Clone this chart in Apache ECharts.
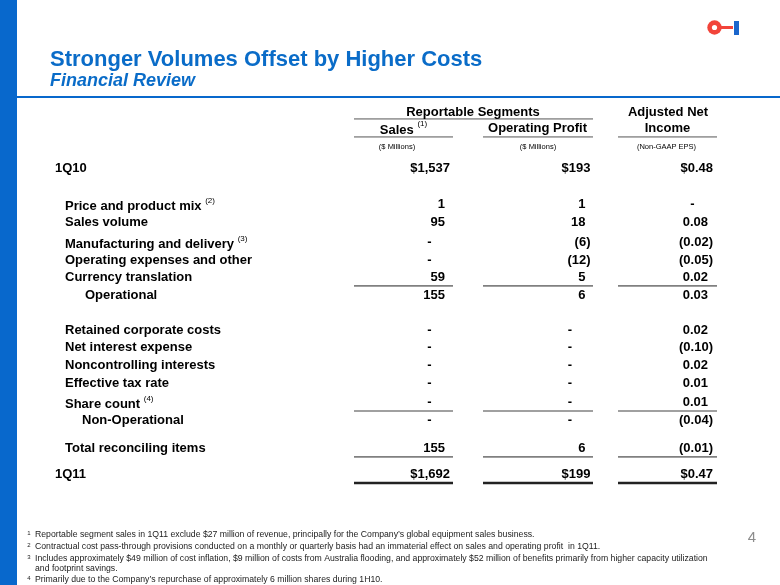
<!DOCTYPE html>
<html>
<head>
<meta charset="utf-8">
<script src="https://cdn.jsdelivr.net/npm/echarts@6/dist/echarts.min.js"></script>
<style>html,body{margin:0;padding:0;background:#fff}#c{width:780px;height:585px}</style>
</head>
<body>
<div id="c"></div>
<script>
// ---------- DATA ----------
const rowLabels = ['1Q10', 'Price and product mix', 'Sales volume', 'Manufacturing and delivery',
  'Operating expenses and other', 'Currency translation', 'Operational', 'Retained corporate costs',
  'Net interest expense', 'Noncontrolling interests', 'Effective tax rate', 'Share count',
  'Non-Operational', 'Total reconciling items', '1Q11'];
const rowNotes = ['', '(2)', '', '(3)', '', '', '', '', '', '', '', '(4)', '', '', ''];
const dollarRows = [true, false, false, false, false, false, false, false, false, false, false, false, false, false, true];
const salesValues = [1537, 1, 95, 0, 0, 59, 155, 0, 0, 0, 0, 0, 0, 155, 1692];
const opProfitValues = [193, 1, 18, -6, -12, 5, 6, 0, 0, 0, 0, 0, 0, 6, 199];
const epsValues = [0.48, 0, 0.08, -0.02, -0.05, 0.02, 0.03, 0.02, -0.10, 0.02, 0.01, 0.01, -0.04, -0.01, 0.47];
const groupHeads = ['Reportable Segments', 'Adjusted Net'];
const columnHeads = ['Sales', 'Operating Profit', 'Income'];
const columnHeadNotes = ['(1)', '', ''];
const unitLabels = ['($ Millions)', '($ Millions)', '(Non-GAAP EPS)'];
const footnotes = [
  ['1', 'Reportable segment sales in 1Q11 exclude $27 million of revenue, principally for the Company\u2019s global equipment sales business.'],
  ['2', 'Contractual cost pass-through provisions conducted on a monthly or quarterly basis had an immaterial effect on sales and operating profit  in 1Q11.'],
  ['3', 'Includes approximately $49 million of cost inflation, $9 million of costs from Australia flooding, and approximately $52 million of benefits primarily from higher capacity utilization\nand footprint savings.'],
  ['4', 'Primarily due to the Company\u2019s repurchase of approximately 6 million shares during 1H10.']
];

// ---------- LAYOUT ----------
const FONT = '"Liberation Sans", Arial, Helvetica, sans-serif';
const ROW_SLOT = [0, 4.1, 6.1, 8.3, 10.3, 12.2, 14.2, 18, 19.9, 21.9, 23.9, 26.1, 28.1, 31.2, 34.1];
const ROW_X = [55, 65, 65, 65, 65, 65, 85, 65, 65, 65, 65, 65, 82, 65, 55];
const COL_ANCHOR = [445, 585.5, 708];
const COL_RANGE = [[354, 453], [483, 593], [618, 717]];
const HEAD_SLOTS = [-6.2, -4.45, -2.35];
const GROUP_X = [473, 668];
const HEAD_X = [403.5, 537.5, 667.5];
const UNIT_X = [397, 538, 666.5];
const RULE_SLOTS = [13.1, 27, 32.1];
const DOUBLE_RULE_SLOT = 35;
const RICH_SHIFT = 2; // px correction for rich text with superscripts

function fmt(v, decimals, dollar) {
  if (v === 0) return '-';
  const s = Math.abs(v).toLocaleString('en-US', {minimumFractionDigits: decimals, maximumFractionDigits: decimals});
  const out = (dollar ? '$' : '') + s;
  return v < 0 ? '(' + out + ')' : out;
}

const supRich = {
  t: {fontFamily: FONT, fontSize: 13, fontWeight: 'bold', fill: '#000', color: '#000'},
  s: {fontFamily: FONT, fontSize: 8, fill: '#000', color: '#000', padding: [0, 0, 12, 0]}
};

// build text cells
const cells = [];
function addCell(x, slot, text, opts) {
  cells.push(Object.assign({x: x, slot: slot, text: text, align: 'left', size: 13, weight: 'bold', rich: false}, opts || {}));
}
// headers
groupHeads.forEach((h, i) => addCell(GROUP_X[i], HEAD_SLOTS[0], h, {align: 'center'}));
columnHeads.forEach((h, i) => {
  if (columnHeadNotes[i]) addCell(HEAD_X[i], HEAD_SLOTS[1], '{t|' + h + '} {s|' + columnHeadNotes[i] + '}', {align: 'center', rich: true});
  else addCell(HEAD_X[i], HEAD_SLOTS[1], h, {align: 'center'});
});
unitLabels.forEach((u, i) => addCell(UNIT_X[i], HEAD_SLOTS[2], u, {align: 'center', size: 7.5, weight: 'normal'}));
// body
const cols = [[salesValues, 0], [opProfitValues, 0], [epsValues, 2]];
rowLabels.forEach((lab, r) => {
  if (rowNotes[r]) addCell(ROW_X[r], ROW_SLOT[r], '{t|' + lab + '} {s|' + rowNotes[r] + '}', {rich: true});
  else addCell(ROW_X[r], ROW_SLOT[r], lab);
  cols.forEach((c, ci) => {
    const txt = fmt(c[0][r], c[1], dollarRows[r]);
    const a = COL_ANCHOR[ci];
    if (txt === '-') addCell(a - 15.5, ROW_SLOT[r], txt, {align: 'center'});
    else if (txt[0] === '(' || txt[0] === '$') addCell(a + 5, ROW_SLOT[r], txt, {align: 'right'});
    else addCell(a, ROW_SLOT[r], txt, {align: 'right'});
  });
});

// rules
const rules = [];
rules.push({x1: COL_RANGE[0][0], x2: COL_RANGE[1][1], slot: -5.45, color: '#555', w: 1});
COL_RANGE.forEach(c => rules.push({x1: c[0], x2: c[1], slot: -3.45, color: '#555', w: 1}));
RULE_SLOTS.forEach(s => COL_RANGE.forEach(c => rules.push({x1: c[0], x2: c[1], slot: s, color: '#808080', w: 1.6})));
COL_RANGE.forEach(c => rules.push({x1: c[0], x2: c[1], slot: DOUBLE_RULE_SLOT, color: '#222', w: 2.6}));

// ---------- CHART ----------
const chart = echarts.init(document.getElementById('c'), null, {renderer: 'canvas'});

const graphics = [
  {type: 'rect', shape: {x: 0, y: 0, width: 17, height: 585}, style: {fill: '#0868CC'}, silent: true},
  {type: 'rect', shape: {x: 17, y: 96, width: 763, height: 2}, style: {fill: '#0868CC'}, silent: true},
  // logo
  {type: 'circle', shape: {cx: 714.5, cy: 27.5, r: 7.2}, style: {fill: '#F2443A'}},
  {type: 'circle', shape: {cx: 714.5, cy: 27.5, r: 2.6}, style: {fill: '#fff'}},
  {type: 'rect', shape: {x: 720, y: 26, width: 13, height: 3}, style: {fill: '#F2443A'}},
  {type: 'rect', shape: {x: 734, y: 21, width: 5, height: 14}, style: {fill: '#1A66CC'}},
  // page number
  {type: 'text', x: 752, y: 538, style: {text: '4', font: '15px ' + FONT, fill: '#8c8c8c', align: 'center', verticalAlign: 'middle'}}
];
const FOOT_Y = [535, 547, 559, 580];
footnotes.forEach((f, i) => {
  graphics.push({type: 'text', x: 29, y: FOOT_Y[i] - 2, style: {text: f[0], font: '6px ' + FONT, fill: '#222', align: 'center', verticalAlign: 'middle'}});
  graphics.push({type: 'text', x: 35, y: FOOT_Y[i] - 5, style: {text: f[1], font: '8.7px ' + FONT, fill: '#222', align: 'left', verticalAlign: 'top', lineHeight: 9.5}});
});

chart.setOption({
  animation: false,
  backgroundColor: '#fff',
  title: {
    text: 'Stronger Volumes Offset by Higher Costs',
    subtext: 'Financial Review',
    left: 50, top: 49, padding: 0, itemGap: 1,
    textStyle: {fontFamily: FONT, fontSize: 22, fontWeight: 'bold', color: '#0A6CC8'},
    subtextStyle: {fontFamily: FONT, fontSize: 18, fontWeight: 'bold', fontStyle: 'italic', color: '#0A6CC8'}
  },
  grid: {left: 0, right: 0, top: 96, bottom: 57},
  xAxis: {type: 'value', min: 0, max: 780, show: false},
  yAxis: {type: 'value', min: -8, max: 40, inverse: true, show: false},
  graphic: graphics,
  series: [
    {
      type: 'custom',
      name: 'rules',
      silent: true,
      clip: false,
      data: rules.map(r => [r.x1, r.x2, r.slot]),
      renderItem: function (params, api) {
        const r = rules[params.dataIndex];
        const p1 = api.coord([r.x1, r.slot]);
        const p2 = api.coord([r.x2, r.slot]);
        return {type: 'line', shape: {x1: p1[0], y1: p1[1], x2: p2[0], y2: p2[1]}, style: {stroke: r.color, lineWidth: r.w}};
      }
    },
    {
      type: 'custom',
      name: 'cells',
      silent: true,
      clip: false,
      data: cells.map(c => [c.x, c.slot]),
      renderItem: function (params, api) {
        const c = cells[params.dataIndex];
        const p = api.coord([c.x, c.slot]);
        const style = {
          text: c.text, align: c.align, verticalAlign: 'middle', fill: '#000',
          fontFamily: FONT, fontSize: c.size, fontWeight: c.weight
        };
        if (c.rich) style.rich = supRich;
        return {type: 'text', x: p[0], y: p[1] + (c.rich ? RICH_SHIFT : 0), style: style};
      }
    }
  ]
});
</script>
</body>
</html>
